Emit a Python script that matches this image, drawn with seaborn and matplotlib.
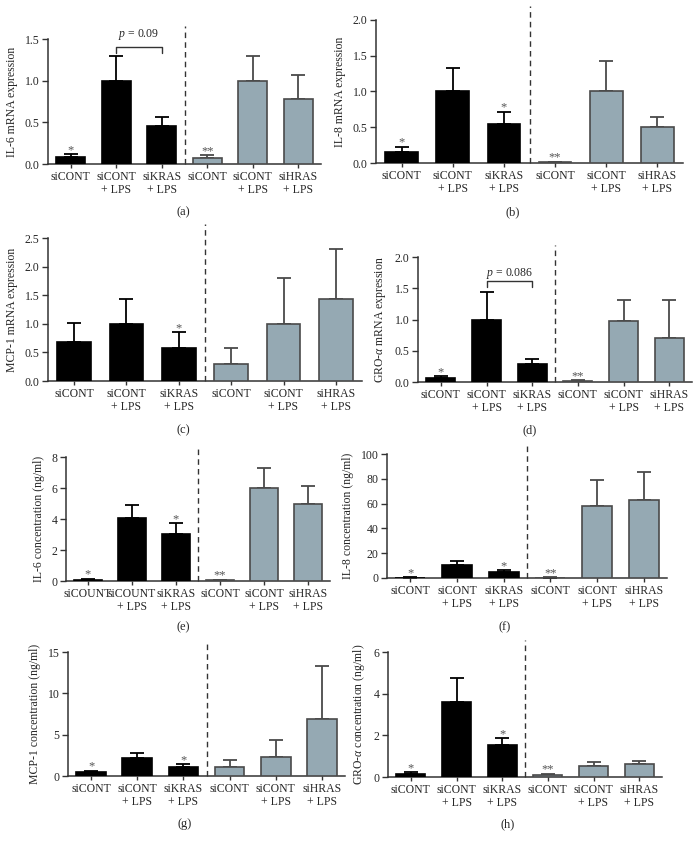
import numpy as np
import pandas as pd
import seaborn as sns
import matplotlib.pyplot as plt

# Figure size in pixels (saved at dpi=100)
W, H = 697, 846

# --- data ---
labels_cont = ["siCONT", "siCONT\n+ LPS", "siKRAS\n+ LPS", "siCONT", "siCONT\n+ LPS", "siHRAS\n+ LPS"]
labels_count = ["siCOUNT", "siCOUNT\n+ LPS", "siKRAS\n+ LPS", "siCONT", "siCONT\n+ LPS", "siHRAS\n+ LPS"]

# (a) IL-6 mRNA
il6_mrna = [0.085, 1.0, 0.46, 0.07, 1.0, 0.78]
il6_mrna_err = [0.035, 0.29, 0.10, 0.04, 0.29, 0.29]
il6_mrna_stars = ["*", "", "", "**", "", ""]

# (b) IL-8 mRNA
il8_mrna = [0.16, 1.0, 0.55, 0.01, 1.0, 0.51]
il8_mrna_err = [0.07, 0.33, 0.17, 0.01, 0.43, 0.13]
il8_mrna_stars = ["*", "", "*", "**", "", ""]

# (c) MCP-1 mRNA
mcp1_mrna = [0.68, 0.99, 0.58, 0.29, 0.99, 1.43]
mcp1_mrna_err = [0.33, 0.44, 0.28, 0.28, 0.81, 0.88]
mcp1_mrna_stars = ["", "", "*", "", "", ""]

# (d) GRO-alpha mRNA
gro_mrna = [0.065, 0.99, 0.28, 0.016, 0.98, 0.70]
gro_mrna_err = [0.03, 0.45, 0.09, 0.015, 0.34, 0.62]
gro_mrna_stars = ["*", "", "", "**", "", ""]

# (e) IL-6 concentration
il6_conc = [0.09, 4.05, 3.02, 0.04, 5.99, 4.96]
il6_conc_err = [0.06, 0.84, 0.71, 0.05, 1.27, 1.18]
il6_conc_stars = ["*", "", "*", "**", "", ""]

# (f) IL-8 concentration
il8_conc = [0.3, 10.5, 4.8, 0.3, 58.0, 63.0]
il8_conc_err = [0.5, 3.5, 1.4, 0.5, 21.0, 22.5]
il8_conc_stars = ["*", "", "*", "**", "", ""]

# (g) MCP-1 concentration
mcp1_conc = [0.48, 2.13, 1.05, 1.13, 2.33, 6.92]
mcp1_conc_err = [0.16, 0.64, 0.36, 0.84, 2.05, 6.43]
mcp1_conc_stars = ["*", "", "*", "", "", ""]

# (h) GRO-alpha concentration
gro_conc = [0.16, 3.62, 1.53, 0.11, 0.53, 0.61]
gro_conc_err = [0.08, 1.15, 0.35, 0.05, 0.19, 0.16]
gro_conc_stars = ["*", "", "*", "**", "", ""]

# --- styling ---
sns.set_style("ticks")
plt.rcParams['font.family'] = ['Liberation Serif', 'DejaVu Serif']
plt.rcParams['mathtext.fontset'] = 'custom'
plt.rcParams['mathtext.rm'] = 'Liberation Serif'
plt.rcParams['mathtext.it'] = 'Liberation Serif:italic'

BLACK = '#000000'
GREY = '#95a9b3'
DARK = '#4a4a4a'
bar_colors = [BLACK, BLACK, BLACK, GREY, GREY, GREY]
edge_colors = [BLACK, BLACK, BLACK, DARK, DARK, DARK]
FS = 8.5

# panel definitions: (values, errors, stars, labels, ylabel, yticks, ticklabels,
#                     rect in px (left, top, right, bottom), caption, caption pos)
panels = [
    dict(v=il6_mrna, e=il6_mrna_err, s=il6_mrna_stars, lab=labels_cont,
         ylabel="IL-6 mRNA expression", yt=[0, 0.5, 1.0, 1.5], fmt="{:.1f}",
         rect=(48, 39, 321, 164), cap="(a)", cpos=(183, 212),
         pval=(r"$p$ = 0.09", 1.40, 1.33, 1.55)),
    dict(v=il8_mrna, e=il8_mrna_err, s=il8_mrna_stars, lab=labels_cont,
         ylabel="IL-8 mRNA expression", yt=[0, 0.5, 1.0, 1.5, 2.0], fmt="{:.1f}",
         rect=(376, 20, 683, 163), cap="(b)", cpos=(513, 212)),
    dict(v=mcp1_mrna, e=mcp1_mrna_err, s=mcp1_mrna_stars, lab=labels_cont,
         ylabel="MCP-1 mRNA expression", yt=[0, 0.5, 1.0, 1.5, 2.0, 2.5], fmt="{:.1f}",
         rect=(48, 238, 362, 381), cap="(c)", cpos=(183, 430)),
    dict(v=gro_mrna, e=gro_mrna_err, s=gro_mrna_stars, lab=labels_cont,
         ylabel=r"GRO-$\alpha$ mRNA expression", yt=[0, 0.5, 1.0, 1.5, 2.0], fmt="{:.1f}",
         rect=(418, 257, 692, 382), cap="(d)", cpos=(530, 430),
         pval=(r"$p$ = 0.086", 1.62, 1.52, 1.74)),
    dict(v=il6_conc, e=il6_conc_err, s=il6_conc_stars, lab=labels_count,
         ylabel="IL-6 concentration (ng/ml)", yt=[0, 2, 4, 6, 8], fmt="{:.0f}",
         rect=(66, 457, 330, 581), cap="(e)", cpos=(183, 627)),
    dict(v=il8_conc, e=il8_conc_err, s=il8_conc_stars, lab=labels_cont,
         ylabel="IL-8 concentration (ng/ml)", yt=[0, 20, 40, 60, 80, 100], fmt="{:.0f}",
         rect=(387, 454, 667, 578), cap="(f)", cpos=(505, 627)),
    dict(v=mcp1_conc, e=mcp1_conc_err, s=mcp1_conc_stars, lab=labels_cont,
         ylabel="MCP-1 concentration (ng/ml)", yt=[0, 5, 10, 15], fmt="{:.0f}",
         rect=(68, 652, 345, 776), cap="(g)", cpos=(185, 824)),
    dict(v=gro_conc, e=gro_conc_err, s=gro_conc_stars, lab=labels_cont,
         ylabel=r"GRO-$\alpha$ concentration (ng/ml)", yt=[0, 2, 4, 6], fmt="{:.0f}",
         rect=(388, 652, 662, 777), cap="(h)", cpos=(508, 824)),
]

fig = plt.figure(figsize=(W / 100, H / 100), dpi=100)

for p in panels:
    l, t, r, b = p['rect']
    ax = fig.add_axes([l / W, 1 - b / H, (r - l) / W, (b - t) / H])

    df = pd.DataFrame({'pos': [str(i) for i in range(6)], 'val': p['v']})
    sns.barplot(data=df, x='pos', y='val', hue='pos',
                palette=dict(zip(df['pos'], bar_colors)), legend=False,
                width=0.64, linewidth=1.2, saturation=1, ax=ax, zorder=3)
    for patch, ec in zip(ax.patches, edge_colors):
        patch.set_edgecolor(ec)

    # upper error bars only
    for i, (v, e) in enumerate(zip(p['v'], p['e'])):
        ax.errorbar(i, v, yerr=[[0], [e]], fmt='none', ecolor=edge_colors[i],
                    elinewidth=1.3, capsize=5, capthick=1.3, zorder=2)
        if p['s'][i]:
            ax.annotate(p['s'][i], (i, v + e), xytext=(0, -1.5), textcoords='offset points',
                        ha='center', va='bottom', fontsize=9, color='#555555')

    # dashed separator between KRAS and HRAS groups
    ax.plot([2.5, 2.5], [0, 1.1], transform=ax.get_xaxis_transform(), clip_on=False,
            color='#333333', lw=1.0, ls=(0, (4, 3)))

    # p value bracket
    if 'pval' in p:
        txt, yb, yd, yt = p['pval']
        ax.plot([1, 1, 2, 2], [yd, yb, yb, yd], color='#333333', lw=1.0, clip_on=False)
        ax.text(1.5, yt, txt, ha='center', va='center', fontsize=FS, clip_on=False)

    ax.set_xlim(-0.5, 5.5)
    ax.set_ylim(0, p['yt'][-1])
    ax.set_yticks(p['yt'])
    ax.set_yticklabels([p['fmt'].format(y) for y in p['yt']])
    ax.set_xticks(range(6))
    ax.set_xticklabels(p['lab'], linespacing=1.15)
    ax.set_xlabel("")
    ax.set_ylabel(p['ylabel'], fontsize=FS, labelpad=5)
    ax.tick_params(axis='x', length=3, width=1, color='#333333', labelsize=FS, pad=2)
    ax.tick_params(axis='y', length=4, width=1, color='#333333', labelsize=FS, pad=2)
    sns.despine(ax=ax)
    for sp in ['left', 'bottom']:
        ax.spines[sp].set_color('#333333')
        ax.spines[sp].set_linewidth(1.1)

    fig.text(p['cpos'][0] / W, 1 - p['cpos'][1] / H, p['cap'], ha='center', va='center', fontsize=9)

plt.savefig('out.png', dpi=100)
